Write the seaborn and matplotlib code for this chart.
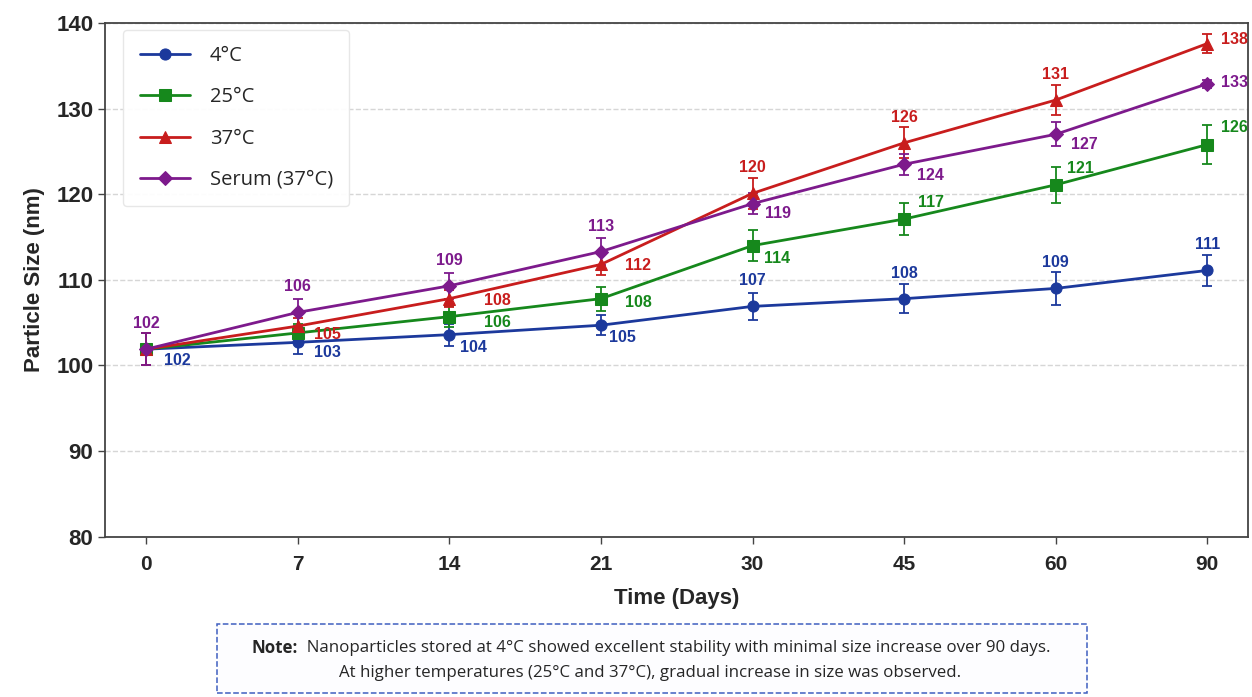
import numpy as np
import pandas as pd
import matplotlib
matplotlib.use("Agg")
import matplotlib.pyplot as plt
import seaborn as sns
from matplotlib.patches import Rectangle

# datos
days = ["0", "7", "14", "21", "30", "45", "60", "90"]
conditions = ["4°C", "25°C", "37°C", "Serum (37°C)"]

size_4c = [101.9, 102.7, 103.6, 104.7, 106.9, 107.8, 109.0, 111.1]
size_25c = [101.9, 103.8, 105.7, 107.8, 114.0, 117.1, 121.1, 125.8]
size_37c = [101.9, 104.6, 107.8, 111.8, 120.1, 126.0, 131.0, 137.6]
size_serum = [101.9, 106.2, 109.3, 113.3, 118.9, 123.5, 127.0, 132.9]

err_4c = [1.9, 1.4, 1.3, 1.2, 1.6, 1.7, 1.9, 1.8]
err_25c = [1.9, 1.0, 1.2, 1.4, 1.8, 1.9, 2.1, 2.3]
err_37c = [1.9, 1.0, 1.0, 1.2, 1.8, 1.8, 1.7, 1.1]
err_serum = [1.9, 1.6, 1.5, 1.6, 1.2, 1.2, 1.4, 0.5]

sizes = [size_4c, size_25c, size_37c, size_serum]
errors = [err_4c, err_25c, err_37c, err_serum]

# estilos
colors = ["#1c399c", "#16881c", "#c81d1d", "#7d1a8c"]
markers = ["o", "s", "^", "D"]
msizes = [8, 8, 8, 7.5]

# desplazamiento (puntos) de cada etiqueta; None = sin etiqueta
# "a" = centrada encima del punto
A = "a"
label_offsets = [
    [(13, -8), (11.5, -7), (7.5, -9), (6, -9), A, A, A, A],
    [None, None, (25, -4), (17, -3), (8, -9), (10, 12), (8, 12), (9.5, 12)],
    [None, (12, -6), (25, -1), (17, -1), A, A, A, (10, 3)],
    [A, A, A, A, (9, -7), (9, -8), (11, -7), (10, 1)],
]

sns.set_theme(style="white")
plt.rcParams["font.family"] = ["Liberation Sans", "DejaVu Sans"]

fig, ax = plt.subplots(figsize=(12.52, 6.97), dpi=100)
fig.subplots_adjust(left=0.084, right=0.997, top=0.967, bottom=0.230)

xpos = np.arange(len(days))
for name, vals, errs, c, m, ms in zip(conditions, sizes, errors, colors, markers, msizes):
    df = pd.DataFrame({"day": days, "size": vals})
    sns.lineplot(data=df, x="day", y="size", ax=ax, color=c, marker=m,
                 markersize=ms, markeredgecolor=c, linewidth=2, label=name)
    ax.errorbar(xpos, vals, yerr=errs, fmt="none", ecolor=c, elinewidth=1.3,
                capsize=3.5, capthick=1.3, zorder=1)

for vals, c, offs in zip(sizes, colors, label_offsets):
    for i, v in enumerate(vals):
        off = offs[i]
        if off is None:
            continue
        if off == A:
            xy_off, ha, va = (0, 13), "center", "bottom"
        else:
            xy_off, ha, va = off, "left", "center"
        ax.annotate(f"{v:.0f}", (xpos[i], v), xytext=xy_off,
                    textcoords="offset points", ha=ha, va=va,
                    fontsize=11.5, fontweight="bold", color=c)

ax.set_xlim(-0.27, 7.27)
ax.set_ylim(80, 140)
ax.set_yticks([80, 90, 100, 110, 120, 130, 140])
ax.set_xlabel("Time (Days)", fontsize=16, fontweight="bold", labelpad=10)
ax.set_ylabel("Particle Size (nm)", fontsize=16, fontweight="bold", labelpad=8)
ax.tick_params(axis="both", which="major", length=5, width=1, color="#444444",
               direction="out", bottom=True, left=True)
for lab in ax.get_xticklabels() + ax.get_yticklabels():
    lab.set_fontweight("bold")
ax.tick_params(axis="y", labelsize=16)
ax.tick_params(axis="x", labelsize=15, pad=8)
ax.yaxis.grid(True, linestyle="--", color="#d6d6d6", linewidth=1)
ax.xaxis.grid(False)
for sp in ax.spines.values():
    sp.set_color("#444444")
    sp.set_linewidth(1.3)

leg = ax.legend(loc="upper left", bbox_to_anchor=(0.016, 0.986), borderaxespad=0,
                prop={"family": "Open Sans", "size": 14.5}, handlelength=2.5,
                labelspacing=1.05, borderpad=0.8, handletextpad=1.0,
                frameon=True, fancybox=True, framealpha=0.95, edgecolor="#e6e6e6")

# nota al pie
fig.patches.append(Rectangle((0.173, 0.006), 0.695, 0.099, transform=fig.transFigure,
                             facecolor="#fdfdff", edgecolor="#3f5fc0", linestyle="--",
                             linewidth=1.1))
note_font = {"family": "Open Sans", "size": 12.2}
note_1 = "  Nanoparticles stored at 4°C showed excellent stability with minimal size increase over 90 days."
note_2 = "At higher temperatures (25°C and 37°C), gradual increase in size was observed."
t1 = fig.text(0.2, 0.070, "Note:", fontweight="bold", va="center", ha="left", **note_font)
t2 = fig.text(0.3, 0.070, note_1, va="center", ha="left", **note_font)
fig.text(0.519, 0.034, note_2, va="center", ha="center", **note_font)

# centrar la primera linea (negrita + resto)
fig.canvas.draw()
r = fig.canvas.get_renderer()
w1 = t1.get_window_extent(r).width / fig.bbox.width
w2 = t2.get_window_extent(r).width / fig.bbox.width
x0 = 0.520 - (w1 + w2) / 2
t1.set_x(x0)
t2.set_x(x0 + w1)

fig.savefig("out.png", dpi=100)
